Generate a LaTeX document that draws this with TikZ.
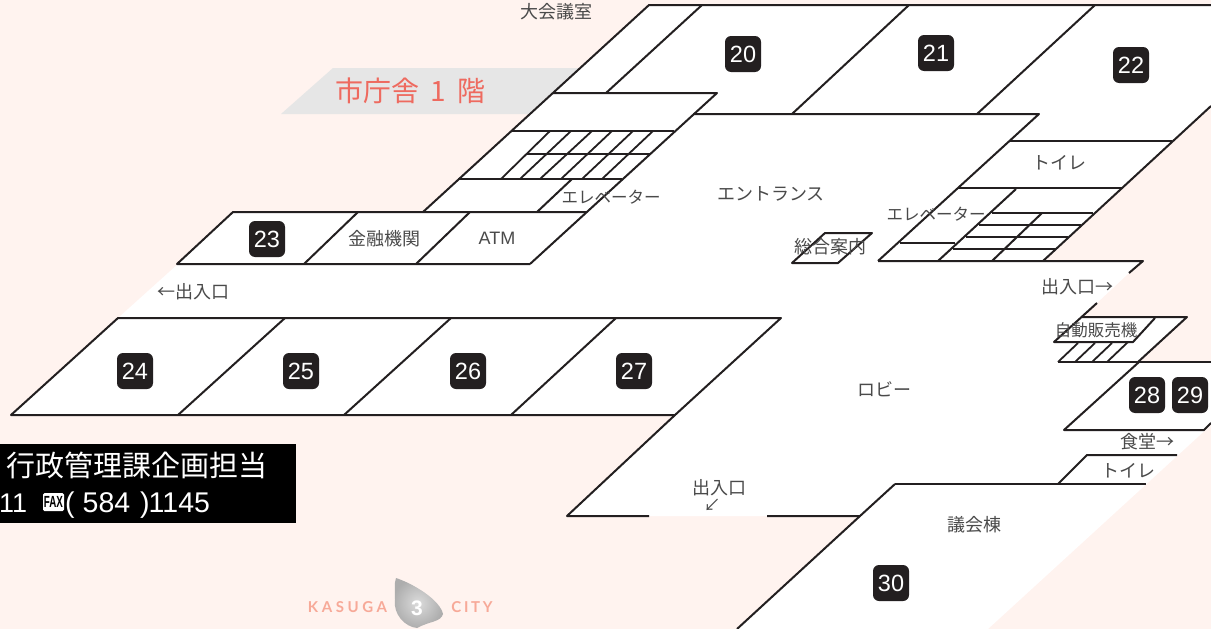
\documentclass[tikz,border=0pt]{standalone}
\usepackage{fontspec}
\setmainfont{Liberation Sans}
\newfontfamily\jp{Noto Sans CJK JP}
\newfontfamily\logofont[LetterSpace=18]{Lato Bold}
\newfontfamily\logowide[LetterSpace=24]{Lato Bold}
\definecolor{bgpink}{HTML}{FFF3EF}
\definecolor{ink}{HTML}{231F20}
\definecolor{labelgrey}{HTML}{4A4A4A}
\definecolor{banner}{HTML}{E6E6E6}
\definecolor{titlered}{HTML}{EE6A5F}
\definecolor{logosalmon}{HTML}{F7A998}
\tikzset{
  wall/.style={draw=ink,line width=2pt,line join=round},
  thin wall/.style={draw=ink,line width=1.8pt},
  badge/.style={fill=ink,rounded corners=6pt,minimum width=36pt,minimum height=36pt,inner sep=0pt,text=white,text height=16.5pt,text depth=0pt,font=\fontsize{23.5}{23.5}\selectfont},
  lbl/.style={inner sep=0pt,yshift=-0.7pt,text=labelgrey,font=\jp\fontsize{18}{18}\selectfont},
  lblsm/.style={inner sep=0pt,yshift=-0.7pt,text=labelgrey,font=\jp\fontsize{16.5}{16.5}\selectfont},
}
\begin{document}
\begin{tikzpicture}[x=1pt,y=-1pt]
\useasboundingbox (0,0) rectangle (1211,629);
\fill[bgpink] (0,0) rectangle (1211,629);
% title banner
\fill[banner] (281,114) -- (333,68) -- (600,68) -- (600,114) -- cycle;
% white floor
\fill[white] (649,5) -- (1211,5) -- (1211,106) -- (1043,261) -- (1143,261) -- (1129,273) -- (1082,317) -- (1187,317) -- (1138,362) -- (1211,362) -- (1211,425) -- (988,629) -- (737,629) -- (860,516) -- (567,516) -- (675,415) -- (11,415) -- (118,318) -- (178,264) -- (233,212) -- (423,212) -- (553,93) -- cycle;
% top rooms
\draw[wall] (1211,5) -- (649,5) -- (423,212);
\draw[wall] (606,93) -- (702,5);
\draw[wall] (553,93) -- (717,93) -- (530,264);
\draw[wall] (693,114) -- (1039,114) -- (878,261);
\draw[wall] (792,114) -- (909,5);
\draw[wall] (977,114) -- (1095,5);
\draw[wall] (1211,106) -- (1043,261);
\draw[wall] (1010,141) -- (1172,141);
\draw[wall] (958,188) -- (1122,188);
% left lifts
\draw[wall] (512,131) -- (674,131);
\draw[wall] (527,154) -- (650,154);
\draw[wall] (458,179) -- (622,179);
\draw[thin wall] (550,131) -- (501,179);
\draw[thin wall] (571,131) -- (520,179);
\draw[thin wall] (592,131) -- (540,179);
\draw[thin wall] (612,131) -- (561,179);
\draw[thin wall] (633,131) -- (582,179);
\draw[thin wall] (653,131) -- (602,179);
\draw[wall] (537,212) -- (572,179);
% room 23 row
\draw[wall] (530,264) -- (177,264) -- (233,212) -- (586,212);
\draw[wall] (304,264) -- (358,212);
\draw[wall] (416,264) -- (470,212);
% rooms 24-27
\draw[wall] (781,318) -- (118,318) -- (11,415) -- (675,415) -- cycle;
\draw[wall] (178,415) -- (285,318);
\draw[wall] (344,415) -- (451,318);
\draw[wall] (511,415) -- (616,318);
% lobby
\draw[wall] (675,415) -- (567,516) -- (649,516);
\draw[wall] (767,516) -- (860,516) -- (895,484);
\draw[wall] (860,516) -- (737,629);
\draw[wall] (895,484) -- (1146,484);
\draw[wall] (1058,484) -- (1087,455) -- (1177,455);
% right lifts
\draw[wall] (878,261) -- (1143,261) -- (1129,273);
\draw[wall] (1016,189) -- (938,261);
\draw[wall] (1042,213) -- (992,261);
\draw[wall] (992,213) -- (1093,213);
\draw[thin wall] (979,225) -- (1081,225);
\draw[thin wall] (966,237) -- (1068,237);
\draw[thin wall] (953,249) -- (1056,249);
\draw[thin wall] (900,243) -- (955,243);
% info desk
\draw[wall] (792,263) -- (825,233) -- (872,233) -- (838,263) -- cycle;
% vending
\draw[wall] (1097,303) -- (1054,342) -- (1133,342) -- (1155,318);
\draw[wall] (1082,317) -- (1187,317) -- (1138,362);
\draw[wall] (1058,362) -- (1211,362);
\draw[thin wall] (1058,362) -- (1078,343);
\draw[thin wall] (1075,362) -- (1095,343);
\draw[thin wall] (1092,362) -- (1112,343);
\draw[thin wall] (1107,362) -- (1128,342);
% rooms 28-29
\draw[wall] (1139,362) -- (1064,430) -- (1204,430) -- (1211,423);
% badges
\foreach \nm/\bx/\by in {20/743/54,21/936/53,22/1131/65,23/267/239,24/135/371,25/301/371,26/468/371,27/634/371,28/1147/395,29/1190/395,30/891/583}
  \node[badge] (b\nm) at (\bx,\by) {\nm};
% labels
\node[lbl] (room) at (556,11) {大会議室};
\node[lblsm] (liftl) at (611,196) {エレベーター};
\node[lbl] (entr) at (771,193) {エントランス};
\node[lbl] (desk) at (830,246) {総合案内};
\node[lblsm] (liftr) at (936,213) {エレベーター};
\node[lbl] (toia) at (1059,162) {トイレ};
\node[lbl] (bank) at (384,238) {金融機関};
\node[lbl,font=\fontsize{18}{18}\selectfont] (atm) at (497,238) {ATM};
\node[lbl] (exl) at (193,291) {←出入口};
\node[lbl] (exr) at (1077,286) {出入口→};
\node[lblsm] (vend) at (1096,330) {自動販売機};
\node[lbl] (lobby) at (884,389) {ロビー};
\node[lbl] (cafe) at (1147,441) {食堂→};
\node[lbl] (toib) at (1128,470) {トイレ};
\node[lbl] (gikai) at (974,524) {議会棟};
\node[lbl] (exb) at (719,487) {出入口};
\node[lbl,font=\jp\fontsize{17}{17}\selectfont] (exarrow) at (712,505) {↙};
% title
\node[inner sep=0pt,text=titlered,font=\jp\fontsize{28}{28}\selectfont] (title) at (410.5,91) {市庁舎\hspace{11pt}1\hspace{11pt}階};
% black box
\fill[black] (0,444) rectangle (296,523);
\node[inner sep=0pt,anchor=west,text=white,font=\jp\fontsize{29}{29}\selectfont] (dept) at (6,465) {行政管理課企画担当};
\node[inner sep=0pt,anchor=base west,text=white,font=\fontsize{27}{27}\selectfont] (tela) at (-1,512) {11};
\node[fill=white,inner sep=0pt,minimum width=21pt,minimum height=18pt,rounded corners=1.5pt,text=black] (fax) at (53.5,502) {\scalebox{0.7}[1.15]{\fontsize{14}{14}\bfseries\selectfont FAX}};
\node[inner sep=0pt,anchor=base west,text=white,font=\fontsize{28.5}{28.5}\selectfont] (telb) at (65,512) {(\kern8pt 584\kern10pt)\kern-1pt 1145};
% logo
\node[inner sep=0pt,text=logosalmon,font=\logowide\fontsize{15}{15}\selectfont] (kasuga) at (347.5,607) {KASUGA};
\node[inner sep=0pt,text=logosalmon,font=\logofont\fontsize{15}{15}\selectfont] (city) at (472,607) {CITY};
\shade[inner color=black!14,outer color=black!32,shading=radial] (396,578) .. controls (414,584) and (440,600) .. (443,614) .. controls (441,622) and (430,621) .. (417,628) .. controls (405,627) and (393,614) .. (395,600) .. controls (395,590) and (394,584) .. cycle;
\node[inner sep=0pt,text=white,font=\bfseries\fontsize{21}{21}\selectfont] (three) at (417,608) {3};
\end{tikzpicture}
\end{document}
